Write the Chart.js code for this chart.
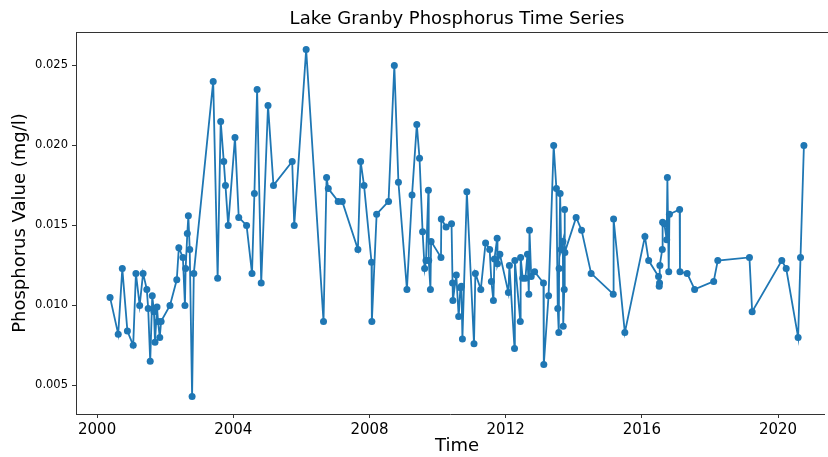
<!DOCTYPE html>
<html>
<head>
<meta charset="utf-8">
<script src="https://cdn.jsdelivr.net/npm/chart.js@4.4.1/dist/chart.umd.min.js"></script>
<style>
  html, body { margin: 0; padding: 0; background: #fff; }
  canvas { display: block; }
</style>
</head>
<body>
<canvas id="chart" width="828" height="457"></canvas>
<script>
// Lake Granby phosphorus samples (decimal year, mg/l)
const times = [
  2000.38, 2000.62, 2000.74, 2000.89, 2001.06, 2001.14, 2001.25, 2001.35, 2001.46, 2001.50,
  2001.56, 2001.62, 2001.67, 2001.70, 2001.76, 2001.79, 2001.84, 2001.88, 2002.14, 2002.34,
  2002.40, 2002.52, 2002.58, 2002.60, 2002.65, 2002.68, 2002.72, 2002.79, 2002.84, 2003.41,
  2003.54, 2003.63, 2003.72, 2003.77, 2003.85, 2004.05, 2004.16, 2004.39, 2004.55, 2004.62,
  2004.70, 2004.82, 2005.02, 2005.18, 2005.73, 2005.79, 2006.14, 2006.65, 2006.74, 2006.79,
  2007.08, 2007.20, 2007.66, 2007.74, 2007.84, 2008.06, 2008.07, 2008.21, 2008.56, 2008.73,
  2008.85, 2009.10, 2009.25, 2009.39, 2009.47, 2009.56, 2009.62, 2009.66, 2009.73, 2009.74,
  2009.79, 2009.81, 2010.10, 2010.11, 2010.25, 2010.41, 2010.44, 2010.45, 2010.55, 2010.62,
  2010.67, 2010.70, 2010.73, 2010.86, 2011.07, 2011.11, 2011.27, 2011.41, 2011.53, 2011.58,
  2011.64, 2011.67, 2011.75, 2011.76, 2011.83, 2012.08, 2012.11, 2012.26, 2012.27, 2012.43,
  2012.44, 2012.50, 2012.58, 2012.64, 2012.68, 2012.70, 2012.75, 2012.85, 2013.11, 2013.12,
  2013.26, 2013.41, 2013.49, 2013.53, 2013.56, 2013.57, 2013.60, 2013.63, 2013.68, 2013.69,
  2013.72, 2013.73, 2013.74, 2014.07, 2014.23, 2014.51, 2015.16, 2015.17, 2015.50, 2016.09,
  2016.20, 2016.49, 2016.51, 2016.52, 2016.53, 2016.60, 2016.61, 2016.66, 2016.73, 2016.75,
  2016.79, 2016.81, 2017.11, 2017.12, 2017.33, 2017.55, 2018.11, 2018.23, 2019.16, 2019.24,
  2020.11, 2020.24, 2020.59, 2020.66, 2020.76
];
const phosphorus = [
  0.0105, 0.0082, 0.0123, 0.0084, 0.0075, 0.0120, 0.0100, 0.0120, 0.0110, 0.0098,
  0.0065, 0.0106, 0.0096, 0.0077, 0.0099, 0.0090, 0.0080, 0.0090, 0.0100, 0.0116,
  0.0136, 0.0130, 0.0100, 0.0123, 0.0145, 0.0156, 0.0135, 0.0043, 0.0120, 0.0240,
  0.0117, 0.0215, 0.0190, 0.0175, 0.0150, 0.0205, 0.0155, 0.0150, 0.0120, 0.0170,
  0.0235, 0.0114, 0.0225, 0.0175, 0.0190, 0.0150, 0.0260, 0.0090, 0.0180, 0.0173,
  0.0165, 0.0165, 0.0135, 0.0190, 0.0175, 0.0127, 0.0090, 0.0157, 0.0165, 0.0250,
  0.0177, 0.0110, 0.0169, 0.0213, 0.0192, 0.0146, 0.0123, 0.0128, 0.0172, 0.0128,
  0.0110, 0.0140, 0.0130, 0.0154, 0.0149, 0.0151, 0.0114, 0.0103, 0.0119, 0.0093,
  0.0111, 0.0112, 0.0079, 0.0171, 0.0076, 0.0120, 0.0110, 0.0139, 0.0135, 0.0115,
  0.0103, 0.0129, 0.0142, 0.0126, 0.0132, 0.0108, 0.0125, 0.0073, 0.0128, 0.0090,
  0.0130, 0.0117, 0.0117, 0.0132, 0.0107, 0.0147, 0.0118, 0.0121, 0.0114, 0.0063,
  0.0106, 0.0200, 0.0173, 0.0098, 0.0083, 0.0123, 0.0170, 0.0135, 0.0140, 0.0087,
  0.0110, 0.0160, 0.0133, 0.0155, 0.0147, 0.0120, 0.0107, 0.0154, 0.0083, 0.0143,
  0.0128, 0.0118, 0.0112, 0.0114, 0.0125, 0.0135, 0.0152, 0.0151, 0.0141, 0.0180,
  0.0121, 0.0157, 0.0160, 0.0121, 0.0120, 0.0110, 0.0115, 0.0128, 0.0130, 0.0096,
  0.0128, 0.0123, 0.0080, 0.0130, 0.0200
];
const xTicks = [2000, 2004, 2008, 2012, 2016, 2020];
const yTicks = [0.005, 0.010, 0.015, 0.020, 0.025];

const FONT = "'DejaVu Sans', sans-serif";
const BLUE = "#1f77b4";

// title, axis labels and the top spine, drawn like matplotlib does
const textPlugin = {
  id: "mplText",
  afterDraw(chart) {
    const ctx = chart.ctx;
    const a = chart.chartArea;
    ctx.save();
    ctx.strokeStyle = "#333";
    ctx.lineWidth = 1;
    ctx.beginPath();
    ctx.moveTo(a.left, a.top + 0.5);
    ctx.lineTo(828, a.top + 0.5);
    ctx.stroke();

    ctx.fillStyle = "#000";
    ctx.textAlign = "center";
    ctx.textBaseline = "middle";
    ctx.font = "18px " + FONT;
    ctx.fillText("Lake Granby Phosphorus Time Series", 457, 19);
    ctx.fillText("Time", 457, 446);
    ctx.translate(20, (a.top + a.bottom) / 2);
    ctx.rotate(-Math.PI / 2);
    ctx.fillText("Phosphorus Value (mg/l)", 0, 0);
    ctx.restore();
  }
};

new Chart(document.getElementById("chart"), {
  type: "scatter",
  data: {
    datasets: [{
      data: times.map((t, i) => ({ x: t, y: phosphorus[i] })),
      showLine: true,
      borderColor: BLUE,
      borderWidth: 1.8,
      pointRadius: 3.5,
      pointBackgroundColor: BLUE,
      pointBorderWidth: 0,
      tension: 0
    }]
  },
  options: {
    responsive: false,
    animation: false,
    layout: { padding: { top: 32, left: 0, right: 0, bottom: 0 } },
    plugins: {
      legend: { display: false },
      tooltip: { enabled: false }
    },
    scales: {
      x: {
        type: "linear",
        min: 1999.38,
        max: 2021.35,
        afterBuildTicks: s => { s.ticks = xTicks.map(v => ({ value: v })); },
        afterFit: s => { s.height = 43; },
        ticks: {
          color: "#000",
          font: { family: FONT, size: 15 },
          padding: 3,
          maxRotation: 0,
          callback: v => String(v)
        },
        grid: { drawOnChartArea: false, drawTicks: true, tickLength: 4, color: "#333" },
        border: { display: true, color: "#333", width: 1 }
      },
      y: {
        min: 0.00321,
        max: 0.02709,
        afterBuildTicks: s => { s.ticks = yTicks.map(v => ({ value: v })); },
        afterFit: s => { s.width = 76; },
        ticks: {
          color: "#000",
          font: { family: FONT, size: 11.5 },
          padding: 4,
          callback: v => v.toFixed(3)
        },
        grid: { drawOnChartArea: false, drawTicks: true, tickLength: 4, color: "#333" },
        border: { display: true, color: "#333", width: 1 }
      }
    }
  },
  plugins: [textPlugin]
});
</script>
</body>
</html>
